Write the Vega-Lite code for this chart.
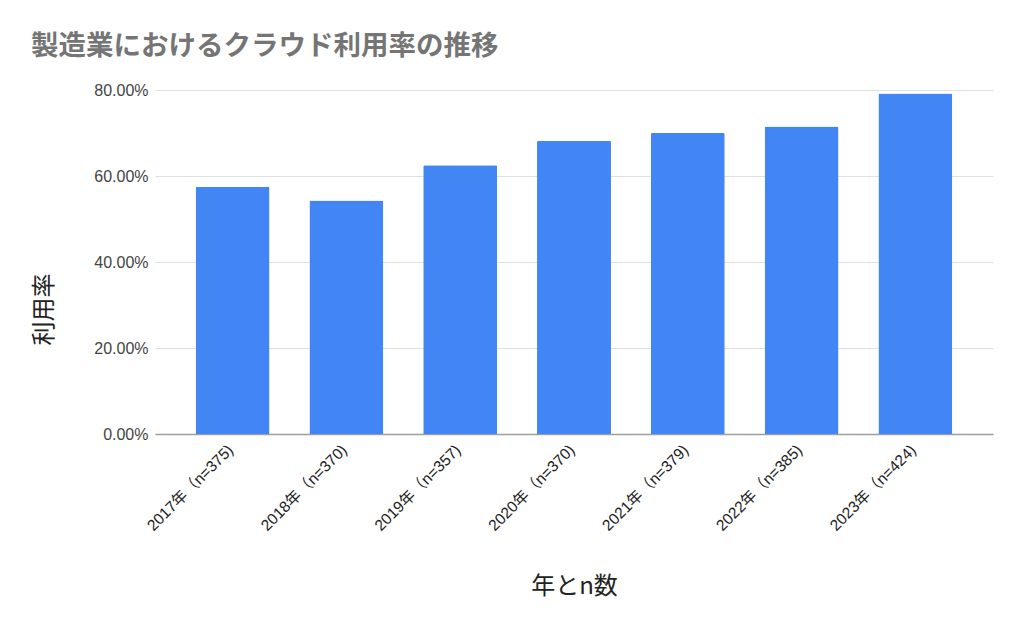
{
  "$schema": "https://vega.github.io/schema/vega-lite/v6.json",
  "autosize": {"type": "none"},
  "width": 838,
  "height": 344,
  "padding": {"left": 155, "top": 90, "right": 31, "bottom": 198},
  "background": "white",
  "title": {
    "text": "製造業におけるクラウド利用率の推移",
    "anchor": "start",
    "frame": "group",
    "font": "Noto Sans CJK JP",
    "fontSize": 27.5,
    "fontWeight": "bold",
    "color": "#757575",
    "dx": -124,
    "offset": 22
  },
  "data": {
    "values": [
      {"year": "2017年（n=375)", "rate": 0.575},
      {"year": "2018年（n=370)", "rate": 0.543},
      {"year": "2019年（n=357)", "rate": 0.625},
      {"year": "2020年（n=370)", "rate": 0.682},
      {"year": "2021年（n=379)", "rate": 0.700},
      {"year": "2022年（n=385)", "rate": 0.715},
      {"year": "2023年（n=424)", "rate": 0.792}
    ]
  },
  "mark": {"type": "bar", "color": "#4285F4", "cornerRadiusTopLeft": 1.5, "cornerRadiusTopRight": 1.5},
  "encoding": {
    "x": {
      "field": "year",
      "type": "nominal",
      "sort": null,
      "title": "年とn数",
      "scale": {"paddingInner": 0.35, "paddingOuter": 0.357},
      "axis": {
        "labelAngle": -45,
        "labelAlign": "right",
        "labelBaseline": "middle",
        "labelPadding": 13,
        "labelOffset": -2,
        "labelFont": "Liberation Sans, Noto Sans CJK JP",
        "labelFontSize": 15.5,
        "labelColor": "#222222",
        "ticks": false,
        "domainColor": "#9e9e9e",
        "domainWidth": 1.5,
        "titleFont": "Noto Sans CJK JP",
        "titleFontSize": 24,
        "titleFontWeight": "normal",
        "titleColor": "#222222",
        "titleBaseline": "middle",
        "titleY": 152,
        "titleX": 419
      }
    },
    "y": {
      "field": "rate",
      "type": "quantitative",
      "title": "利用率",
      "scale": {"domain": [0, 0.8]},
      "axis": {
        "values": [0, 0.2, 0.4, 0.6, 0.8],
        "format": ".2%",
        "labelFont": "Liberation Sans",
        "labelFontSize": 16,
        "labelColor": "#444444",
        "labelPadding": 7,
        "ticks": false,
        "domain": false,
        "gridColor": "#e0e0e0",
        "titleFont": "Noto Sans CJK JP",
        "titleFontSize": 24,
        "titleFontWeight": "normal",
        "titleColor": "#222222",
        "titleAngle": -90,
        "titleBaseline": "middle",
        "titleX": -111,
        "titleY": 219
      }
    }
  },
  "config": {"view": {"stroke": null}}
}
